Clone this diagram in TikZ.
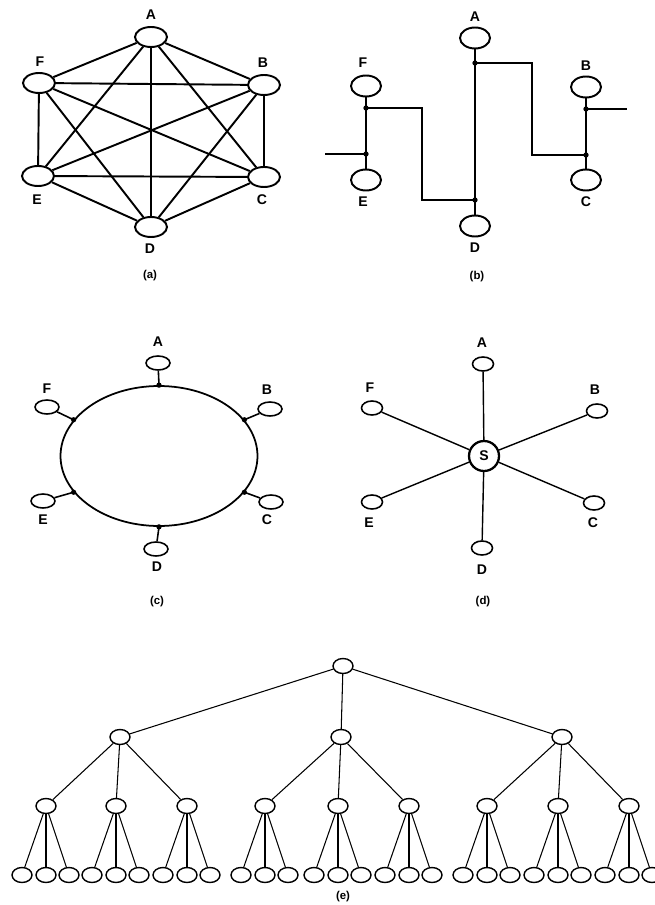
\documentclass[tikz,border=0pt]{standalone}
\usepackage{fontspec}
\setmainfont{Liberation Sans}
\usetikzlibrary{shapes.geometric}

\tikzset{
  sta/.style={draw, ellipse, line width=1.1pt, inner sep=0pt, minimum width=0.64cm, minimum height=0.4cm},
  stb/.style={draw, ellipse, line width=1.1pt, inner sep=0pt, minimum width=0.6cm, minimum height=0.42cm},
  stc/.style={draw, ellipse, line width=0.9pt, inner sep=0pt, minimum width=0.48cm, minimum height=0.28cm},
  std/.style={draw, ellipse, line width=0.9pt, inner sep=0pt, minimum width=0.42cm, minimum height=0.28cm},
  ste/.style={draw, ellipse, line width=0.8pt, inner sep=0pt, minimum width=0.4cm, minimum height=0.3cm},
  lbl/.style={font=\fontsize{8}{9}\selectfont\bfseries, inner sep=0pt},
  captxt/.style={font=\fontsize{6.5}{7}\selectfont\bfseries, inner sep=0pt},
  busdot/.style={circle, fill, inner sep=0pt, minimum size=3pt}
}

\begin{document}
\begin{tikzpicture}[x=0.02cm, y=-0.02cm]
\useasboundingbox (0,0) rectangle (655,905);

% (a) jaringan mesh
\node[sta] (aA) at (151,37) {};
\node[sta] (aB) at (264,85) {};
\node[sta] (aC) at (264,177) {};
\node[sta] (aD) at (151,227) {};
\node[sta] (aE) at (38,176) {};
\node[sta] (aF) at (39,83) {};
\foreach \u/\v in {A/B,A/C,A/D,A/E,A/F,B/C,B/D,B/E,B/F,C/D,C/E,C/F,D/E,D/F,E/F}
  \draw[line width=1.1pt] (a\u) -- (a\v);
\node[lbl] (aAl) at (151,15) {A};
\node[lbl] (aBl) at (263,63) {B};
\node[lbl] (aCl) at (262,200) {C};
\node[lbl] (aDl) at (150,249) {D};
\node[lbl] (aEl) at (37,200) {E};
\node[lbl] (aFl) at (40,62) {F};
\node[captxt] (acap) at (150,276) {(a)};

% (b) jaringan bus
\node[stb] (bA) at (475,38) {};
\node[stb] (bB) at (586,87) {};
\node[stb] (bC) at (586,180) {};
\node[stb] (bD) at (475,226) {};
\node[stb] (bE) at (366,180) {};
\node[stb] (bF) at (366,86) {};
\coordinate (b0) at (325,154);
\coordinate (b9) at (627,109);
\node[busdot] (bE1) at (366,154) {};
\node[busdot] (bF1) at (366,108) {};
\node[busdot] (bD1) at (475,200) {};
\node[busdot] (bA1) at (475,63) {};
\node[busdot] (bC1) at (586,155) {};
\node[busdot] (bB1) at (586,109) {};
\draw[line width=1.3pt] (b0) -- (bE1.center) -- (bF1.center) -- ++(56,0) |- (bD1.center)
  -- (bA1.center) -- ++(57,0) |- (bC1.center) -- (bB1.center) -- (b9);
\foreach \n in {A,B,C,D,E,F}
  \draw[line width=1.3pt] (b\n) -- (b\n1.center);
\node[lbl] (bAl) at (475,17) {A};
\node[lbl] (bBl) at (586,66) {B};
\node[lbl] (bCl) at (586,202) {C};
\node[lbl] (bDl) at (475,248) {D};
\node[lbl] (bEl) at (363,202) {E};
\node[lbl] (bFl) at (363,63) {F};
\node[captxt] (bcap) at (477,277) {(b)};

% (c) jaringan cincin
\node[draw, ellipse, line width=1pt, inner sep=0pt, minimum width=3.94cm, minimum height=2.8cm] (ring) at (159,456) {};
\node[stc] (cA) at (158,363) {};
\node[stc] (cB) at (270,409) {};
\node[stc] (cC) at (271,502) {};
\node[stc] (cD) at (156,549) {};
\node[stc] (cE) at (43,501) {};
\node[stc] (cF) at (47,407) {};
\foreach \n/\a in {A/90,B/23,C/-23,D/270,E/203,F/157} {
  \node[busdot] (c\n1) at (ring.\a) {};
  \draw[line width=0.9pt] (c\n) -- (c\n1.center);
}
\node[lbl] (cAl) at (158,342) {A};
\node[lbl] (cBl) at (267,390) {B};
\node[lbl] (cCl) at (267,520) {C};
\node[lbl] (cDl) at (157,567) {D};
\node[lbl] (cEl) at (43,520) {E};
\node[lbl] (cFl) at (47,389) {F};
\node[captxt] (ccap) at (157,602) {(c)};

% (d) jaringan bintang
\node[draw, circle, line width=1.3pt, inner sep=0pt, minimum size=0.6cm, font=\fontsize{8}{9}\selectfont\bfseries] (dS) at (484,456) {S};
\node[std] (dA) at (483,364) {};
\node[std] (dB) at (597,411) {};
\node[std] (dC) at (594,503) {};
\node[std] (dD) at (482,548) {};
\node[std] (dE) at (372,502) {};
\node[std] (dF) at (372,408) {};
\foreach \n in {A,B,C,D,E,F}
  \draw[line width=0.8pt] (dS) -- (d\n);
\node[lbl] (dAl) at (482,343) {A};
\node[lbl] (dBl) at (595,390) {B};
\node[lbl] (dCl) at (593,523) {C};
\node[lbl] (dDl) at (482,570) {D};
\node[lbl] (dEl) at (369,523) {E};
\node[lbl] (dFl) at (370,388) {F};
\node[captxt] (dcap) at (483,602) {(d)};

% (e) jaringan pohon
\node[ste] (eR) at (343,666) {};
\foreach \i/\x in {1/120,2/341,3/562} {
  \node[ste] (e\i) at (\x,737) {};
  \draw[line width=0.6pt] (eR) -- (e\i);
}
\foreach \j/\x/\p in {1/46/1,2/116/1,3/187/1,4/265/2,5/338/2,6/409/2,7/487/3,8/558/3,9/629/3} {
  \node[ste] (f\j) at (\x,806) {};
  \draw[line width=0.6pt] (e\p) -- (f\j);
  \foreach \k/\d in {1/-24,2/0,3/23} {
    \node[ste] (g\j\k) at ({\x+\d},875) {};
    \draw[line width=0.6pt] (f\j) -- (g\j\k);
  }
}
\node[captxt] (ecap) at (343,897) {(e)};
\end{tikzpicture}
\end{document}
